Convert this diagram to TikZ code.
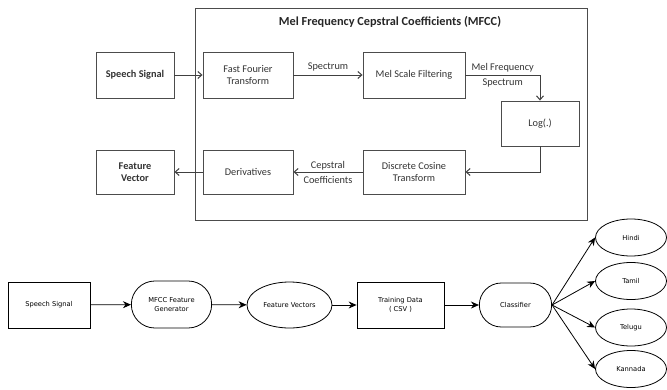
\documentclass[tikz,border=0pt]{standalone}
\usepackage{fontspec}
\setmainfont{Carlito}
\newfontfamily\verdana{DejaVu Sans}
\usetikzlibrary{arrows.meta,shapes.geometric,shapes.misc}

\begin{document}
\begin{tikzpicture}[x=1pt,y=-1pt]
        \tikzset{mfcc/.style={draw=black!70,line width=0.9pt,minimum height=46pt,align=center,
                text=black!80,font=\fontsize{10.3}{12}\selectfont},
            flow/.style={-{Straight Barb[length=4pt,width=7pt,line width=1pt]},draw=black!75,line width=0.9pt},
            lbl/.style={text=black!80,align=center,font=\fontsize{10.3}{15}\selectfont},
            stage/.style={draw,line width=0.8pt,minimum width=87pt,minimum height=46pt,align=center,
                font=\verdana\fontsize{6.7}{9}\selectfont},
            pill/.style={stage,rounded rectangle},
            lang/.style={stage,ellipse,minimum width=71pt,minimum height=37pt},
            pipe/.style={-{Stealth[length=8pt,width=7pt]},line width=0.8pt}}
        \useasboundingbox (0,0) rectangle (667,389);
        % MFCC block
        \node[draw=black!70,line width=0.9pt,minimum width=392pt,minimum height=212pt] (mfccbox) at (391,114) {};
        \node[font=\bfseries\fontsize{12.3}{14}\selectfont,text=black!85] (title) at (390,22)
            {Mel Frequency Cepstral Coefficients (MFCC)};
        \node[mfcc,minimum width=78pt,font=\bfseries\fontsize{10.3}{12}\selectfont] (speech) at (135,75) {Speech Signal};
        \node[mfcc,minimum width=90pt] (fft) at (248,75) {Fast Fourier\\Transform};
        \node[mfcc,minimum width=102pt] (melf) at (414,75) {Mel Scale Filtering};
        \node[mfcc,minimum width=78pt,minimum height=45pt] (logn) at (540,123.5) {Log(.)};
        \node[mfcc,minimum width=102pt,minimum height=44pt] (dct) at (414,172) {Discrete Cosine\\Transform};
        \node[mfcc,minimum width=90pt,minimum height=44pt] (deriv) at (248,172) {Derivatives};
        \node[mfcc,minimum width=78pt,minimum height=44pt,font=\bfseries\fontsize{10.3}{12}\selectfont] (fvec) at (135,172) {Feature\\Vector};
        \draw[flow] (speech) -- (fft);
        \draw[flow] (fft) -- node[lbl,above] {Spectrum} (melf);
        \draw[flow] (melf) -| node[lbl,pos=0.25] {Mel Frequency\\Spectrum} (logn);
        \draw[flow] (logn) |- (dct);
        \draw[flow] (dct) -- node[lbl] {Cepstral\\Coefficients} (deriv);
        \draw[flow] (deriv) -- (fvec);
        % pipeline
        \node[stage,minimum width=82pt,line width=0.95pt] (sig) at (49,305) {Speech Signal};
        \node[pill,minimum height=47pt] (gen) at (171.5,304.5) {MFCC Feature\\Generator};
        \node[stage,ellipse,minimum width=85pt] (vecs) at (289.5,305) {Feature Vectors};
        \node[stage] (train) at (400.5,305) {Training Data\\( CSV )};
        \node[pill,minimum width=79pt,minimum height=44pt] (clf) at (515.5,305) {Classifier};
        \node[lang] (hindi) at (631,237.5) {Hindi};
        \node[lang] (tamil) at (631,281) {Tamil};
        \node[lang] (telugu) at (631,327.5) {Telugu};
        \node[lang] (kannada) at (631,369) {Kannada};
        \draw[pipe] (sig) -- (gen);
        \draw[pipe] (gen) -- (vecs);
        \draw[pipe] (vecs) -- (train);
        \draw[pipe] (train) -- (clf);
        \foreach \lang in {hindi,tamil,telugu,kannada}
            \draw[pipe] (clf.east) -- (\lang.west);
    \end{tikzpicture}
\end{document}
